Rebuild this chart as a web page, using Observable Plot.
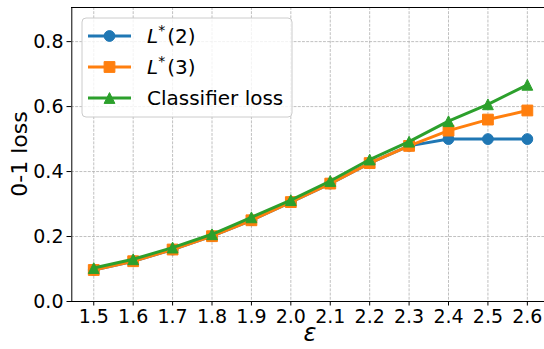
<!DOCTYPE html>
<html>
<head>
<meta charset="utf-8">
<script src="https://cdn.jsdelivr.net/npm/d3@7"></script>
<script src="https://cdn.jsdelivr.net/npm/@observablehq/plot@0.6"></script>
<style>
  html, body { margin: 0; padding: 0; background: #fff; }
  #chart svg { display: block; }
</style>
</head>
<body>
<div id="chart"></div>
<script>
// Perturbation budget ε on the x axis
const eps = [1.5, 1.6, 1.7, 1.8, 1.9, 2.0, 2.1, 2.2, 2.3, 2.4, 2.5, 2.6];
// 0-1 loss for each series
const lossL2  = [0.097, 0.124, 0.160, 0.201, 0.250, 0.306, 0.363, 0.426, 0.479, 0.500, 0.500, 0.500];
const lossL3  = [0.097, 0.124, 0.160, 0.201, 0.250, 0.306, 0.363, 0.426, 0.479, 0.526, 0.560, 0.588];
const lossClf = [0.103, 0.130, 0.166, 0.207, 0.259, 0.312, 0.371, 0.437, 0.492, 0.555, 0.607, 0.667];
const seriesKeys = ["L2", "L3", "Classifier loss"];
const colors = ["#1f77b4", "#ff7f0e", "#2ca02c"];
const yTicks = [0, 0.2, 0.4, 0.6, 0.8];

// matplotlib-like marker shapes
const circle = {draw(ctx, size) { const r = Math.sqrt(size / Math.PI); ctx.moveTo(r, 0); ctx.arc(0, 0, r, 0, 2 * Math.PI); }};
const square = {draw(ctx, size) { const r = Math.sqrt(size / Math.PI); ctx.rect(-r, -r, 2 * r, 2 * r); }};
const triangle = {draw(ctx, size) { const r = Math.sqrt(size / Math.PI); ctx.moveTo(0, -r); ctx.lineTo(r, r); ctx.lineTo(-r, r); ctx.closePath(); }};
const symbols = [circle, square, triangle];

const seriesValues = [lossL2, lossL3, lossClf];
const rows = seriesKeys.map((key, i) => eps.map((e, j) => ({eps: e, loss: seriesValues[i][j], series: key})));

const xDomain = [1.5 - 0.0557, 2.6 + 0.0557];
const yDomain = [0, 0.905];
const font = "DejaVu Sans, sans-serif";
const gridStyle = {stroke: "#b0b0b0", strokeOpacity: 1, strokeWidth: 0.8, strokeDasharray: "2.9,1.3"};
const markerR = 5.4;
const lineW = 3;

const seriesMarks = rows.flatMap((data, i) => [
  Plot.line(data, {x: "eps", y: "loss", stroke: colors[i], strokeWidth: lineW, strokeLinejoin: "round"}),
  Plot.dot(data, {x: "eps", y: "loss", fill: colors[i], stroke: colors[i], strokeWidth: 1, r: markerR, symbol: symbols[i]})
]);

const chart = Plot.plot({
  width: 544,
  height: 349,
  marginLeft: 71,
  marginRight: 0,
  marginTop: 7,
  marginBottom: 48,
  style: {fontFamily: font, background: "#fff", overflow: "hidden"},
  x: {type: "linear", domain: xDomain, range: [71.3, 548.8]},
  y: {type: "linear", domain: yDomain, range: [301, 7]},
  marks: [
    Plot.gridX(eps, {...gridStyle}),
    Plot.gridY(yTicks, {...gridStyle}),
    Plot.ruleX([xDomain[0]], {stroke: "#000", strokeWidth: 1}),
    Plot.ruleY([yDomain[0]], {stroke: "#000", strokeWidth: 1}),
    Plot.ruleY([yDomain[1]], {stroke: "#000", strokeWidth: 1}),
    Plot.axisX(eps, {tickFormat: d3.format(".1f"), tickSize: 4.5, tickPadding: 3, fontSize: 19, label: null, stroke: "#000", fill: "#000"}),
    Plot.axisY(yTicks, {tickFormat: d3.format(".1f"), tickSize: 4.5, tickPadding: 3.5, fontSize: 19, label: null, stroke: "#000", fill: "#000"}),
    ...seriesMarks
  ]
});

document.getElementById("chart").appendChild(chart);

const svg = d3.select(chart);
const xs = chart.scale("x"), ys = chart.scale("y");
const xr = xs.range, yr = ys.range;

// axis titles
svg.append("text")
  .attr("x", (xr[0] + xr[1]) / 2)
  .attr("y", 341)
  .attr("text-anchor", "middle")
  .attr("font-family", font)
  .attr("font-style", "italic")
  .attr("font-size", 24)
  .attr("fill", "#000")
  .text("ε");

svg.append("text")
  .attr("transform", `translate(${27},${(yr[0] + yr[1]) / 2}) rotate(-90)`)
  .attr("text-anchor", "middle")
  .attr("font-family", font)
  .attr("font-size", 22)
  .attr("fill", "#000")
  .text("0-1 loss");

// legend
const legend = svg.append("g").attr("transform", "translate(82,18)");
legend.append("rect")
  .attr("width", 210).attr("height", 99).attr("rx", 4)
  .attr("fill", "#fff").attr("fill-opacity", 0.8)
  .attr("stroke", "#cccccc").attr("stroke-width", 1);

const markerPaths = symbols.map(s => d3.symbol(s, Math.PI * markerR * markerR)());
seriesKeys.forEach((key, i) => {
  const cy = 18 + i * 31;
  const row = legend.append("g").attr("transform", `translate(0,${cy})`);
  row.append("line").attr("x1", 6).attr("x2", 49).attr("y1", 0).attr("y2", 0)
    .attr("stroke", colors[i]).attr("stroke-width", lineW);
  row.append("path").attr("d", markerPaths[i]).attr("transform", "translate(27.5,0)")
    .attr("fill", colors[i]).attr("stroke", colors[i]).attr("stroke-width", 1);
  const t = row.append("text").attr("x", 65).attr("y", 7)
    .attr("text-anchor", "start")
    .attr("font-family", font).attr("font-size", 20).attr("fill", "#000");
  if (key === "Classifier loss") {
    t.text(key);
  } else {
    t.append("tspan").attr("font-style", "italic").text("L");
    t.append("tspan").attr("font-size", 14).attr("dy", -8).text("*");
    t.append("tspan").attr("dy", 8).attr("dx", 2).text("(" + key.slice(1) + ")");
  }
});
</script>
</body>
</html>
